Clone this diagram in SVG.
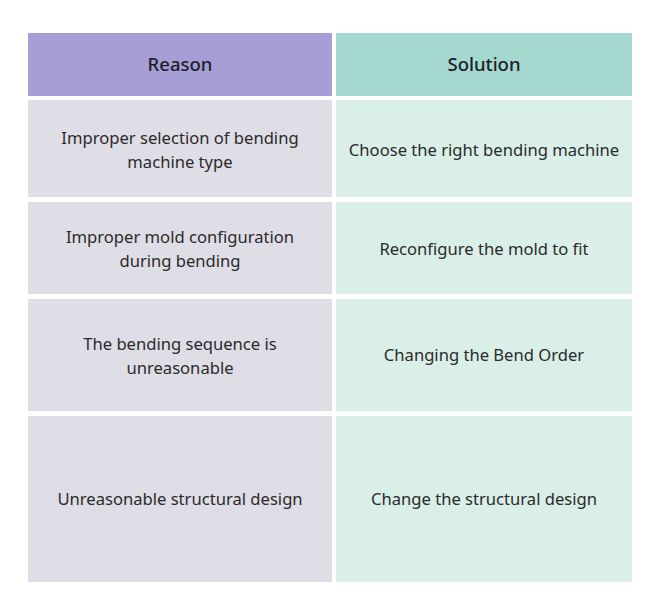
<svg xmlns="http://www.w3.org/2000/svg" width="660" height="614" viewBox="0 0 660 614">
<style>
text{font-family:"Noto Sans","Liberation Sans",sans-serif;font-size:16.6px;fill:#2b2b2b;text-anchor:middle}
.h{font-size:18.5px;font-weight:500;fill:#1e1e2a}
.hl{fill:#a69fd5}.hr{fill:#a5d8cf}.bl{fill:#dfdde6}.br{fill:#d9efe8}
</style>
<rect width="660" height="614" fill="#fff"/>
<g id="header">
<rect class="hl" x="28" y="33" width="304" height="63"/>
<rect class="hr" x="336" y="33" width="296" height="63"/>
<text class="h" x="180" y="71">Reason</text>
<text class="h" x="484" y="71">Solution</text>
</g>
<g id="row1">
<rect class="bl" x="28" y="100" width="304" height="97"/>
<rect class="br" x="336" y="100" width="296" height="97"/>
<text x="180" y="144">Improper selection of bending</text>
<text x="180" y="168">machine type</text>
<text x="484" y="156">Choose the right bending machine</text>
</g>
<g id="row2">
<rect class="bl" x="28" y="202" width="304" height="92"/>
<rect class="br" x="336" y="202" width="296" height="92"/>
<text x="180" y="243">Improper mold configuration</text>
<text x="180" y="267">during bending</text>
<text x="484" y="255">Reconfigure the mold to fit</text>
</g>
<g id="row3">
<rect class="bl" x="28" y="299" width="304" height="112"/>
<rect class="br" x="336" y="299" width="296" height="112"/>
<text x="180" y="350">The bending sequence is</text>
<text x="180" y="374">unreasonable</text>
<text x="484" y="361">Changing the Bend Order</text>
</g>
<g id="row4">
<rect class="bl" x="28" y="416" width="304" height="166"/>
<rect class="br" x="336" y="416" width="296" height="166"/>
<text x="180" y="505">Unreasonable structural design</text>
<text x="484" y="505">Change the structural design</text>
</g>
</svg>
